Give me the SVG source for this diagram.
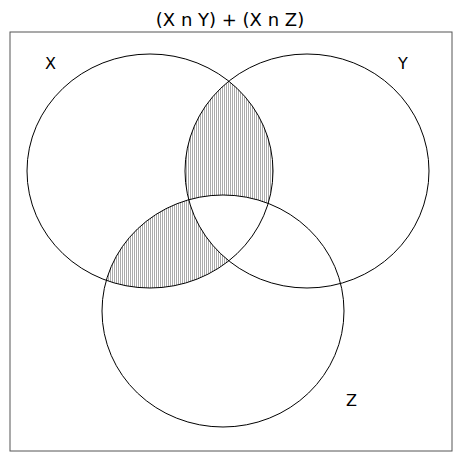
<svg xmlns="http://www.w3.org/2000/svg" width="453" height="452" viewBox="0 0 453 452">
<style>
.c{fill:none;stroke:#000;stroke-width:1}
.t{font-family:"DejaVu Sans",sans-serif;font-size:16px;fill:#000}
</style>
<defs>
<pattern id="h" width="2" height="4" patternUnits="userSpaceOnUse"><rect width="2" height="4" fill="#fff"/><rect x="0" width="1" height="4" fill="#aaa"/></pattern>
<clipPath id="cx"><ellipse cx="150" cy="171" rx="123" ry="117"/></clipPath>
<clipPath id="cy"><ellipse cx="307" cy="171" rx="122" ry="117"/></clipPath>
<clipPath id="cz"><ellipse cx="223" cy="311" rx="121" ry="116"/></clipPath>
</defs>
<rect x="0" y="0" width="453" height="452" fill="#fff"/>
<rect x="10" y="32" width="442" height="419" fill="none" stroke="#555"/>
<text class="t" x="230" y="26" text-anchor="middle" style="font-size:18px">(X n Y) + (X n Z)</text>
<g id="shading">
<g clip-path="url(#cx)"><g clip-path="url(#cy)"><rect x="0" y="0" width="453" height="452" fill="url(#h)"/></g></g>
<g clip-path="url(#cx)"><g clip-path="url(#cz)"><rect x="0" y="0" width="453" height="452" fill="url(#h)"/></g></g>
<g clip-path="url(#cx)"><g clip-path="url(#cy)"><g clip-path="url(#cz)"><rect x="0" y="0" width="453" height="452" fill="#fff"/></g></g></g>
</g>
<g id="X"><ellipse class="c" cx="150" cy="171" rx="123" ry="117"/><text class="t" x="45" y="69">X</text></g>
<g id="Y"><ellipse class="c" cx="307" cy="171" rx="122" ry="117"/><text class="t" x="398" y="69">Y</text></g>
<g id="Z"><ellipse class="c" cx="223" cy="311" rx="121" ry="116"/><text class="t" x="346" y="406">Z</text></g>
</svg>
